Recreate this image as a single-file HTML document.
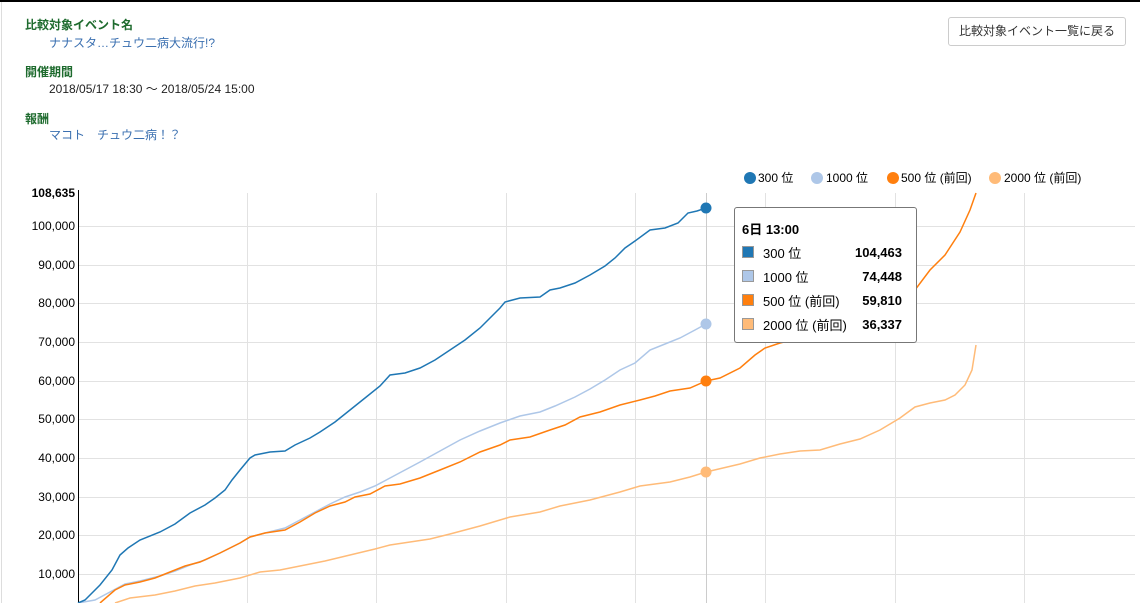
<!DOCTYPE html>
<html><head><meta charset="utf-8"><style>
body{margin:0;width:1140px;height:603px;overflow:hidden;background:#fff;font-family:"Liberation Sans","Noto Sans CJK JP",sans-serif;position:relative}
.top{position:absolute;left:0;top:0;width:1140px;height:2px;background:#000}
.lb{position:absolute;left:1px;top:2px;width:1px;height:601px;background:#ddd}
.h{position:absolute;left:25px;font-size:12px;font-weight:bold;color:#1e6b2e}
.v{position:absolute;left:49px;font-size:12px}
.btn{position:absolute;left:948px;top:17px;width:176px;height:27px;border:1px solid #ccc;border-radius:3px;font-size:12px;line-height:27px;text-align:center;color:#333;background:#fff}
.tt{position:absolute;left:734px;top:207px;width:181px;height:134px;border:1px solid #777;border-radius:3px;background:#fff;font-size:13px}
.tt div{position:absolute}
.sq{width:10px;height:10px;border:1px solid #999;left:7px}
</style></head><body>
<div class="top"></div><div class="lb"></div>
<div class="h" style="top:16px">比較対象イベント名</div>
<div class="v" style="top:34px;color:#3a6fb0">ナナスタ…チュウ二病大流行!?</div>
<div class="h" style="top:63px">開催期間</div>
<div class="v" style="top:80px;color:#222">2018/05/17 18:30 ～ 2018/05/24 15:00</div>
<div class="h" style="top:110px">報酬</div>
<div class="v" style="top:126px;color:#3a6fb0">マコト　チュウ二病！？</div>
<div class="btn">比較対象イベント一覧に戻る</div>
<svg style="position:absolute;left:0;top:0" width="1140" height="603" font-family="Liberation Sans, Noto Sans CJK JP, sans-serif" font-size="12">
<g stroke="#e2e2e2" stroke-width="1">
<line x1="78" x2="1135" y1="226.5" y2="226.5"/><line x1="78" x2="1135" y1="265.5" y2="265.5"/><line x1="78" x2="1135" y1="303.5" y2="303.5"/><line x1="78" x2="1135" y1="342.5" y2="342.5"/><line x1="78" x2="1135" y1="381.5" y2="381.5"/><line x1="78" x2="1135" y1="419.5" y2="419.5"/><line x1="78" x2="1135" y1="458.5" y2="458.5"/><line x1="78" x2="1135" y1="497.5" y2="497.5"/><line x1="78" x2="1135" y1="535.5" y2="535.5"/><line x1="78" x2="1135" y1="574.5" y2="574.5"/>
<line x1="247.5" x2="247.5" y1="193" y2="603"/><line x1="376.5" x2="376.5" y1="193" y2="603"/><line x1="506.5" x2="506.5" y1="193" y2="603"/><line x1="635.5" x2="635.5" y1="193" y2="603"/><line x1="765.5" x2="765.5" y1="193" y2="603"/><line x1="895.5" x2="895.5" y1="193" y2="603"/><line x1="1024.5" x2="1024.5" y1="193" y2="603"/>
</g>
<line x1="706.5" x2="706.5" y1="193" y2="603" stroke="#ccc"/>
<line x1="78.5" x2="78.5" y1="190" y2="603" stroke="#000"/>
<g text-anchor="end" fill="#000">
<text x="75" y="197" font-weight="bold">108,635</text>
<text x="75" y="230">100,000</text><text x="75" y="269">90,000</text><text x="75" y="307">80,000</text><text x="75" y="346">70,000</text><text x="75" y="385">60,000</text><text x="75" y="423">50,000</text><text x="75" y="462">40,000</text><text x="75" y="501">30,000</text><text x="75" y="539">20,000</text><text x="75" y="578">10,000</text>
</g>
<g fill="none" stroke-width="1.5">
<polyline stroke="#ffbb78" points="115,603 130,598 155,595 175,591 195,586 215,583 240,578 260,572 280,570 300,566 325,561 350,555 375,549 390,545 410,542 430,539 450,534 480,526 510,517 540,512 560,506 590,500 620,492 640,486 670,482 690,477 706,472 740,464 760,458 780,454 800,451 820,450 840,444 860,439 880,430 900,418 915,407 930,403 945,400 955,395 965,385 972,370 976,345"/>
<polyline stroke="#aec7e8" points="78,603 95,600 110,592 125,584 140,581 160,576 175,571 190,565 205,560 220,553 240,543 250,537 265,533 285,528 300,520 315,512 330,504 345,497 360,492 375,486 390,478 405,470 420,462 440,451 460,440 480,431 500,423 520,416 540,412 555,406 575,397 590,389 605,380 620,370 635,363 650,350 665,344 680,338 695,330 706,324"/>
<polyline stroke="#ff7f0e" points="100,603 115,590 125,585 140,582 155,578 170,572 185,566 200,562 220,553 240,543 250,537 265,533 285,530 300,522 315,513 330,506 345,502 355,497 370,494 385,486 400,484 420,478 440,470 460,462 480,452 500,445 510,440 530,437 550,430 565,425 580,417 600,412 620,405 640,400 655,396 670,391 690,388 706,381 720,378 740,368 755,355 765,348 780,343 800,338 820,333 840,325 860,318 880,313 900,300 915,290 930,270 945,255 960,232 970,210 976,193"/>
<polyline stroke="#1f77b4" points="78,603 85,600 100,585 112,570 120,555 128,548 140,540 160,532 175,524 190,513 205,505 215,498 225,490 232,480 240,470 250,458 255,455 270,452 285,451 295,445 310,438 320,432 335,422 350,410 365,398 380,386 390,375 405,373 420,368 435,360 450,350 465,340 480,328 490,318 500,308 505,302 520,298 540,297 550,290 560,288 575,283 590,275 605,266 615,258 625,248 635,241 650,230 665,228 678,223 688,213 697,211 706,208"/>
</g>
<circle cx="706" cy="208" r="5.5" fill="#1f77b4"/><circle cx="706" cy="324" r="5.5" fill="#aec7e8"/><circle cx="706" cy="381" r="5.5" fill="#ff7f0e"/><circle cx="706" cy="472" r="5.5" fill="#ffbb78"/>
<circle cx="750" cy="178" r="6" fill="#1f77b4"/><text x="758" y="182">300 位</text>
<circle cx="817" cy="178" r="6" fill="#aec7e8"/><text x="826" y="182">1000 位</text>
<circle cx="893" cy="178" r="6" fill="#ff7f0e"/><text x="901" y="182">500 位 (前回)</text>
<circle cx="995" cy="178" r="6" fill="#ffbb78"/><text x="1004" y="182">2000 位 (前回)</text>
</svg>
<div class="tt">
<div style="left:7px;top:11px;font-weight:bold">6日 13:00</div>
<div class="sq" style="top:38px;background:#1f77b4"></div><div style="left:28px;top:35px">300 位</div><div style="right:14px;top:37px;font-weight:bold">104,463</div>
<div class="sq" style="top:62px;background:#aec7e8"></div><div style="left:28px;top:59px">1000 位</div><div style="right:14px;top:61px;font-weight:bold">74,448</div>
<div class="sq" style="top:86px;background:#ff7f0e"></div><div style="left:28px;top:83px">500 位 (前回)</div><div style="right:14px;top:85px;font-weight:bold">59,810</div>
<div class="sq" style="top:110px;background:#ffbb78"></div><div style="left:28px;top:107px">2000 位 (前回)</div><div style="right:14px;top:109px;font-weight:bold">36,337</div>
</div>
</body></html>
